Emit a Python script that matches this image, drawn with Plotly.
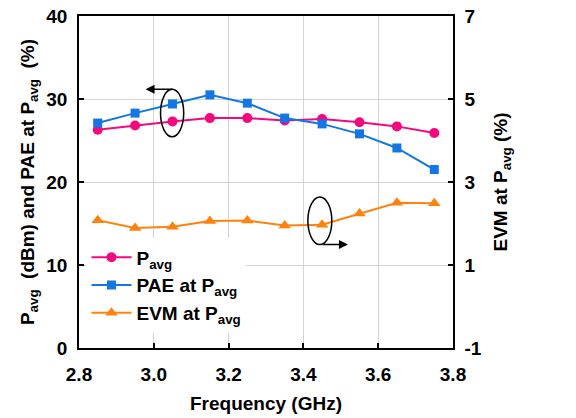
import plotly.graph_objects as go

# Measured data
freq_ghz = [2.85, 2.95, 3.05, 3.15, 3.25, 3.35, 3.45, 3.55, 3.65, 3.75]
p_avg_dbm = [26.3, 26.8, 27.3, 27.7, 27.7, 27.4, 27.6, 27.2, 26.7, 25.9]
pae_pct = [27.1, 28.3, 29.4, 30.5, 29.5, 27.7, 27.0, 25.8, 24.1, 21.5]
evm_pct = [2.08, 1.89, 1.92, 2.06, 2.07, 1.95, 1.97, 2.24, 2.50, 2.49]

x_ticks = [2.8, 3.0, 3.2, 3.4, 3.6, 3.8]
left_ticks = [0, 10, 20, 30, 40]
right_ticks = [-1, 1, 3, 5, 7]

FONT = "Liberation Sans"
PINK = "#f4087e"
BLUE = "#1277e4"
ORANGE = "#ff820f"


def bold(values, fmt="{}"):
    return [f"<b>{fmt.format(v)}</b>" for v in values]


fig = go.Figure()
fig.add_trace(go.Scatter(
    x=freq_ghz, y=p_avg_dbm, name="<b>P<sub>avg</sub></b>", mode="lines+markers",
    line=dict(color=PINK, width=2), marker=dict(symbol="circle", size=10, color=PINK)))
fig.add_trace(go.Scatter(
    x=freq_ghz, y=pae_pct, name="<b>PAE at P<sub>avg</sub></b>", mode="lines+markers",
    line=dict(color=BLUE, width=2), marker=dict(symbol="square", size=9, color=BLUE)))
fig.add_trace(go.Scatter(
    x=freq_ghz, y=evm_pct, name="<b>EVM at P<sub>avg</sub></b>", mode="lines+markers", yaxis="y2",
    line=dict(color=ORANGE, width=2), marker=dict(symbol="triangle-up", size=11, color=ORANGE)))

# Ellipses grouping the curves with their axes
fig.add_shape(type="circle", xref="x", yref="y", x0=3.018, x1=3.080, y0=25.45, y1=31.16,
              line=dict(color="black", width=1.5))
fig.add_shape(type="circle", xref="x", yref="y", x0=3.412, x1=3.476, y0=12.46, y1=18.2,
              line=dict(color="black", width=1.5))
fig.add_annotation(x=2.978, y=31.16, ax=3.054, ay=31.16, xref="x", yref="y", axref="x", ayref="y",
                   text="", showarrow=True, arrowhead=2, arrowsize=1.2, arrowwidth=1.5, arrowcolor="black")
fig.add_annotation(x=3.519, y=12.46, ax=3.449, ay=12.46, xref="x", yref="y", axref="x", ayref="y",
                   text="", showarrow=True, arrowhead=2, arrowsize=1.2, arrowwidth=1.5, arrowcolor="black")

axis_common = dict(
    showline=True, linecolor="black", linewidth=1.5, ticks="inside", ticklen=5,
    tickcolor="black", tickwidth=1.5, automargin=False,
    tickfont=dict(family=FONT, size=19, color="black"),
)
title_font = dict(family=FONT, size=19, color="black")

fig.update_layout(
    width=576, height=418,
    margin=dict(l=79, r=123, t=16, b=70),
    paper_bgcolor="white", plot_bgcolor="white",
    font=dict(family=FONT, color="black"),
    xaxis=dict(
        range=[2.8, 3.8], tickvals=x_ticks, ticktext=bold(x_ticks, "{:.1f}"),
        showgrid=True, gridcolor="#d4d4d4", gridwidth=1, mirror=True, ticklabelstandoff=8,
        title=dict(text="<b>Frequency (GHz)</b>", font=title_font, standoff=13),
        **axis_common),
    yaxis=dict(
        range=[0, 40], tickvals=left_ticks, ticktext=bold(left_ticks), showgrid=True,
        gridcolor="#d4d4d4", gridwidth=1, zeroline=False, ticklabelstandoff=6,
        title=dict(text="<b>P<sub>avg</sub>&nbsp; (dBm) and PAE at P<sub>avg</sub>&nbsp; (%)</b>",
                   font=title_font, standoff=7),
        **axis_common),
    yaxis2=dict(
        range=[-1, 7], tickvals=right_ticks, ticktext=bold(right_ticks), overlaying="y",
        side="right", showgrid=False, zeroline=False, ticklabelstandoff=6,
        title=dict(text="<b>EVM at P<sub>avg</sub> (%)</b>", font=title_font, standoff=13),
        **axis_common),
    legend=dict(
        x=0.02, y=0.33, xanchor="left", yanchor="top", bgcolor="white",
        font=dict(family=FONT, size=19, color="black"),
        tracegroupgap=0, itemwidth=40),
    showlegend=True,
)

fig.write_html("out.html")
